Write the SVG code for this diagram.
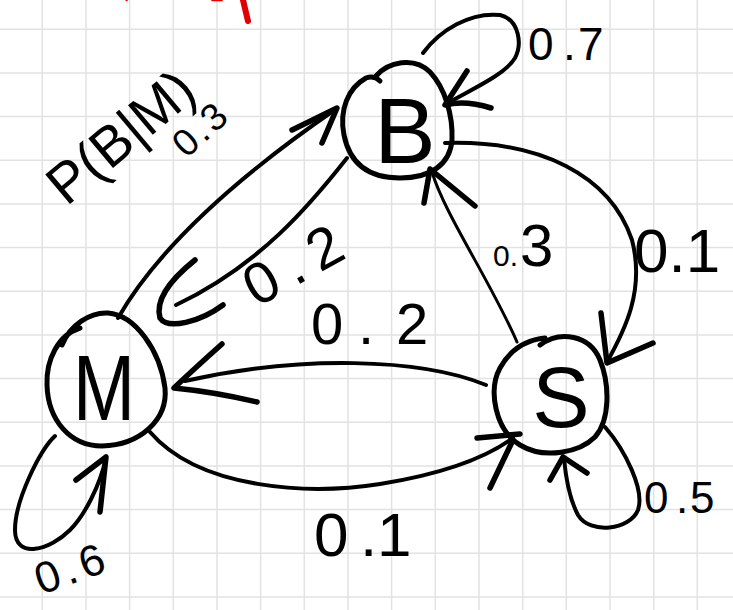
<svg xmlns="http://www.w3.org/2000/svg" width="733" height="610" viewBox="0 0 733 610">
<style>
.grid{stroke:#e2e2e2;stroke-width:1.5;fill:none}
.ring{fill:none;stroke:#000;stroke-width:5;stroke-linecap:round;stroke-linejoin:round}
.edge{fill:none;stroke:#000;stroke-width:4;stroke-linecap:round;stroke-linejoin:round}
.thin{stroke-width:3}
.head{fill:none;stroke:#000;stroke-width:5.5;stroke-linecap:round;stroke-linejoin:round}
.lbl{font-family:"Liberation Sans",Arial,sans-serif;fill:#000}
.node{font-family:"Liberation Sans",Arial,sans-serif;fill:#000;text-anchor:middle}
</style>
<rect width="733" height="610" fill="#fff"/>
<path class="grid" d="M42.3 0V610M86 0V610M129.6 0V610M173.3 0V610M217 0V610M260.6 0V610M304.3 0V610M348 0V610M391.6 0V610M435.3 0V610M479 0V610M522.7 0V610M566.3 0V610M610 0V610M653.7 0V610M697.3 0V610M0 29.3H733M0 73H733M0 116.6H733M0 160.3H733M0 204H733M0 247.6H733M0 291.3H733M0 335H733M0 378.6H733M0 422.3H733M0 466H733M0 509.6H733M0 553.3H733M0 597H733"/>
<g id="red-mark" fill="none" stroke="#e00000" stroke-linecap="round">
<path d="M243 0 L248 21" stroke-width="6"/>
<path d="M212 0.5 L222 0.5" stroke-width="1.5"/>
<path d="M126 0 L127 0.5" stroke-width="1.5"/>
</g>
<g id="node-B">
<path class="ring" d="M376 76 C388 62 414 56 430 72 C445 88 453 115 452 140 C450 165 430 178 400 178 C370 178 350 165 344 135 C339 110 348 88 366 78 Q374 75 380 81"/>
<text class="node" x="405" y="163" font-size="92">B</text>
</g>
<g id="node-M">
<path class="ring" d="M62 345 C70 325 90 312 108 313 C135 315 160 350 165 388 C168 420 140 445 102 446 C70 446 48 420 47 385 C46 360 58 335 80 328"/>
<text class="node" x="104" y="420" font-size="92" textLength="62" lengthAdjust="spacingAndGlyphs">M</text>
</g>
<g id="node-S">
<path class="ring" d="M540 345 C560 330 590 335 600 360 C610 385 610 420 595 437 C580 452 545 460 520 445 C495 430 488 390 500 368 C510 350 525 340 545 338"/>
<text class="node" x="561" y="427" font-size="86">S</text>
</g>
<g id="connectors">
<path class="edge" d="M423 53 C440 30 470 12 500 15 C520 20 522 45 515 58 C505 75 470 90 446 104"/>
<path class="head" d="M467 71 L445 105 Q465 100 491 108"/>
<path class="edge" d="M118 318 C160 245 240 175 336 109"/>
<path class="head" d="M292 130 L337 108 L322 143"/>
<path class="edge" d="M347 158 C310 205 260 265 176 305"/>
<path class="head" d="M195 260 C170 280 155 300 160 318 C168 330 200 322 223 305"/>
<path class="edge thin" d="M517 342 C490 280 445 215 432 172"/>
<path class="head" d="M424 203 L430 169 L475 206"/>
<path class="edge" d="M445 143 C540 140 610 175 632 240 C645 290 625 330 607 362"/>
<path class="head" d="M601 313 L607 363 L653 343"/>
<path class="edge" d="M486 385 C420 358 300 355 185 381"/>
<path class="head" d="M222 344 Q195 368 174 388 Q215 392 257 402"/>
<path class="edge" d="M150 432 C200 490 310 495 380 484 C430 476 480 462 513 438"/>
<path class="head" d="M477 438 L520 434 M490 488 L512 442"/>
<path class="edge" d="M55 436 C40 450 15 500 15 530 C15 560 50 550 70 530 C85 515 100 485 106 458"/>
<path class="head" d="M76 480 L106 457 L100 512"/>
<path class="edge" d="M605 427 C625 450 645 490 638 510 C630 530 590 535 578 515 C570 500 566 480 564 458"/>
<path class="head" d="M550 480 L563 457 L587 473"/>
</g>
<g id="labels">
<text class="lbl" x="528 563 578" y="60" font-size="46">0.7</text>
<text class="lbl" transform="translate(120 136) rotate(-40)" x="0" y="20" font-size="56" text-anchor="middle">P(B|M)</text>
<text class="lbl" transform="translate(200 128) rotate(-42)" x="0" y="14" font-size="38" text-anchor="middle" letter-spacing="3">0.3</text>
<text class="lbl" transform="translate(298 262) rotate(-29)" x="0" y="20" font-size="58" text-anchor="middle" letter-spacing="12">0.2</text>
<text class="lbl" x="493" y="266"><tspan font-size="30">0.</tspan><tspan font-size="60" dx="2">3</tspan></text>
<text class="lbl" x="634" y="272" font-size="62">0.1</text>
<text class="lbl" x="311 358 396" y="344" font-size="58">0.2</text>
<text class="lbl" x="314 360 377" y="556" font-size="62">0.1</text>
<text class="lbl" transform="translate(72 568) rotate(-20)" x="0" y="15" font-size="44" text-anchor="middle" letter-spacing="5">0.6</text>
<text class="lbl" x="644 676 690" y="513" font-size="44">0.5</text>
</g>
</svg>
